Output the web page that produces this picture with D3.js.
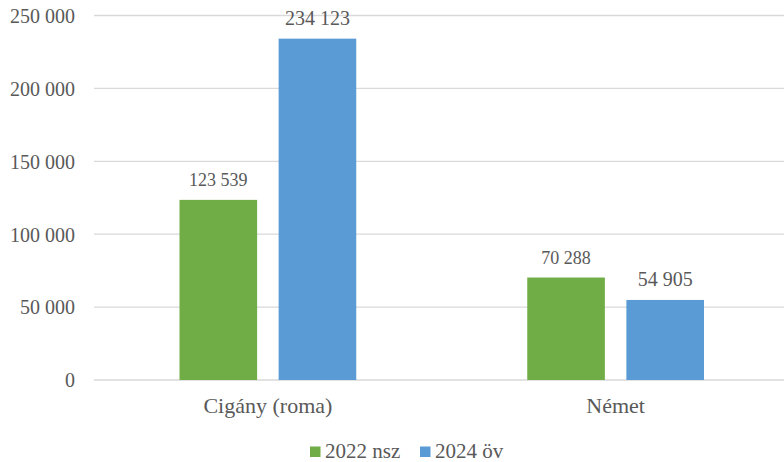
<!DOCTYPE html>
<html>
<head>
<meta charset="utf-8">
<script src="https://cdn.jsdelivr.net/npm/d3@7"></script>
<style>
  html, body { margin: 0; padding: 0; background: #ffffff; }
  svg { display: block; }
</style>
</head>
<body>
<svg id="chart" width="784" height="462"></svg>
<script>
const categories = ["Cigány (roma)", "Német"];
const seriesNames = ["2022 nsz", "2024 öv"];
const values2022 = [123539, 70288];
const values2024 = [234123, 54905];
const yTicks = [0, 50000, 100000, 150000, 200000, 250000];
const colors = ["#70ad47", "#5b9bd5"];

(function () {
const FONT = '"Liberation Serif"';
const TXT = "#595959";
const svg = d3.select("#chart");
const W = 784;
const mLeft = 94, mRight = 789.5, mTop = 15.5, mBottom = 380;

const x0 = d3.scaleBand().domain(categories).range([mLeft, mRight]).paddingInner(0).paddingOuter(0);
const step = x0.bandwidth();
const x1 = d3.scaleBand().domain(seriesNames).range([85.5, step - 85.5]).paddingInner(0.217).paddingOuter(0);
const y = d3.scaleLinear().domain([0, 250000]).range([mBottom, mTop]);

const fmt = v => d3.format(",")(v).replace(/,/g, " ");

// gridlines
svg.append("g").selectAll("line").data(yTicks).join("line")
  .attr("x1", mLeft).attr("x2", W)
  .attr("y1", d => y(d)).attr("y2", d => y(d))
  .attr("stroke", "#d9d9d9").attr("stroke-width", 1.3);

// y axis labels
const yAxis = d3.axisLeft(y).tickValues(yTicks).tickFormat(fmt).tickSize(0).tickPadding(0);
const gy = svg.append("g").attr("transform", `translate(75,0)`).call(yAxis);
gy.select(".domain").remove();
gy.attr("font-family", FONT).attr("font-size", null);
gy.selectAll("text").style("font-size", "20px").attr("dy", "0.34em");

// bars
const data = categories.map((c, i) => ({cat: c, vals: [
  {s: seriesNames[0], v: values2022[i], k: 0},
  {s: seriesNames[1], v: values2024[i], k: 1}
]}));

const groups = svg.append("g").selectAll("g").data(data).join("g")
  .attr("transform", d => `translate(${x0(d.cat)},0)`);

groups.selectAll("rect").data(d => d.vals).join("rect")
  .attr("x", d => x1(d.s))
  .attr("width", x1.bandwidth())
  .attr("y", d => y(d.v))
  .attr("height", d => y(0) - y(d.v))
  .attr("fill", d => colors[d.k]);

const labelSize = ["18px", "20px"];
groups.selectAll("text.lbl").data(d => d.vals).join("text")
  .attr("class", "lbl")
  .attr("x", d => x1(d.s) + x1.bandwidth() / 2)
  .attr("y", d => y(d.v) - 14)
  .attr("text-anchor", "middle")
  .style("font-size", d => labelSize[d.k])
  .text(d => fmt(d.v));

// x axis category labels
const xAxis = d3.axisBottom(x0).tickSize(0).tickPadding(0);
const gx = svg.append("g").attr("transform", `translate(0,${mBottom})`).call(xAxis);
gx.select(".domain").remove();
gx.attr("font-family", FONT).attr("font-size", null);
gx.selectAll("text").style("font-size", "22px").attr("dy", "0").attr("y", 33);

// legend
const legend = svg.append("g");
const legendX = [310, 420];
seriesNames.forEach((s, i) => {
  legend.append("rect").attr("x", legendX[i]).attr("y", 446.5).attr("width", 10.5).attr("height", 10.5).attr("fill", colors[i]);
  legend.append("text").attr("x", legendX[i] + 15).attr("y", 457.5).style("font-size", "21px").text(s);
});

svg.selectAll("text").style("font-family", FONT).style("fill", TXT);
})();
</script>
</body>
</html>
